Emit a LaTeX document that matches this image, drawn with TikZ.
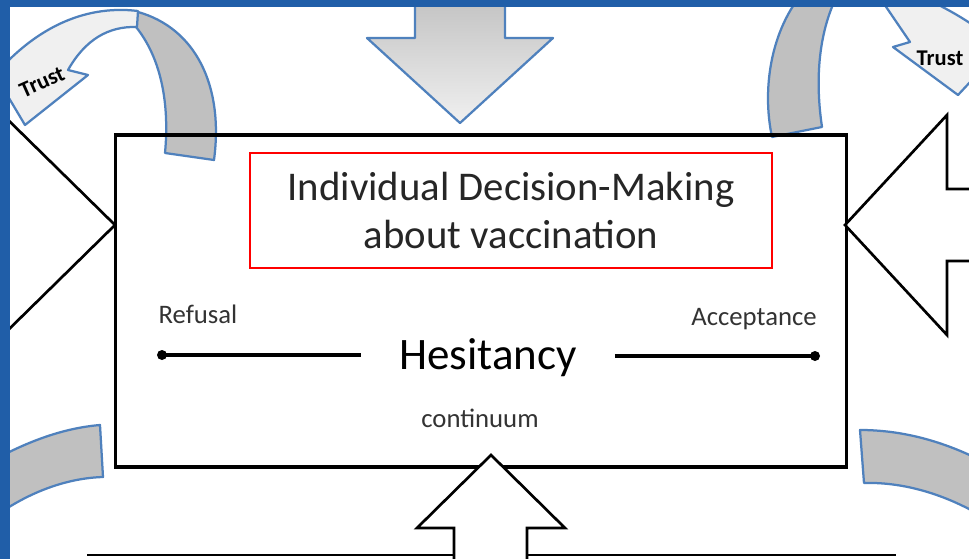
\documentclass[tikz,border=0pt]{standalone}
\usepackage{fontspec}
\setmainfont{Carlito}
\usepackage{xcolor}
\usetikzlibrary{shapes, arrows, positioning}

\definecolor{slideblue}{RGB}{32,94,168}
\definecolor{bandblue}{RGB}{79,129,189}
\definecolor{bandgray}{RGB}{192,192,192}
\definecolor{bandlight}{RGB}{240,240,240}

\begin{document}
\begin{tikzpicture}[x=0.025cm, y=-0.025cm,
    band/.style={draw=bandblue, line width=1.6pt, fill=bandgray, line join=round},
    frontband/.style={band, fill=bandlight},
    openarrow/.style={draw, fill=white, line width=1.9pt},
    small/.style={font=\fontsize{19}{21}\selectfont, text=black!80, anchor=base},
    trustlabel/.style={font=\bfseries\fontsize{16}{18}\selectfont, inner sep=0pt}]

    \useasboundingbox (0,0) rectangle (969,559);
    \fill[slideblue] (0,0) rectangle (969,559);
    \fill[white] (10,7) rectangle (969,559);

    \begin{scope}
        \clip (10,7) rectangle (969,559);

        % incoming arrows
        \path[band, top color=bandgray, bottom color=bandlight]
            (415,-10) -- (415,38) -- (367,38) -- (460,123) -- (553,38) -- (505,38) -- (505,-10) -- cycle;
        \draw[line width=1.9pt] (0,112) -- (115,225) -- (0,338);

        % trust loops
        \draw[band] (138,12) .. controls (195,28) and (224,85) .. (214,160) -- (165,153)
            .. controls (170,100) and (160,50) .. (128,18) -- cycle;
        \draw[frontband] (138,11) .. controls (80,4) and (35,33) .. (5,64) -- (0,83) -- (25,125) -- (88,75)
            -- (68,70) .. controls (85,40) and (108,26) .. (137,27) -- cycle;
        \node (trustleft) [trustlabel, rotate=24] at (42,82) {Trust};

        \draw[band] (772,137) .. controls (762,90) and (770,30) .. (805,-10) -- (840,-10)
            .. controls (818,30) and (815,80) .. (822,127) -- cycle;
        \draw[frontband] (878,-5) -- (910,42) -- (893,47) -- (958,95) -- (1000,50) -- (980,30)
            .. controls (955,12) and (930,0) .. (905,-10) -- cycle;
        \node (trustright) [trustlabel] at (940,58) {Trust};

        \draw[band] (100,425) -- (103,477) .. controls (70,478) and (30,490) .. (-10,520)
            -- (-10,462) .. controls (30,440) and (65,428) .. cycle;
        \draw[band] (860,430) -- (864,483) .. controls (900,482) and (940,492) .. (980,515)
            -- (980,460) .. controls (940,440) and (900,430) .. cycle;

        % decision box
        \node (mainbox) [draw, line width=2.2pt, minimum width=18.25cm, minimum height=8.3cm] at (481,301) {};
        \node (decision) [draw=red, line width=1.8pt, minimum width=13.05cm, minimum height=2.875cm,
            align=center, font=\fontsize{29}{34}\selectfont, text=black!85] at (511,210.5)
            {Individual Decision-Making\\about vaccination};

        \node (hes) [font=\fontsize{32}{36}\selectfont, anchor=base, inner xsep=27pt] at (488,369) {Hesitancy};
        \node (refusal) [small] at (198,323) {Refusal};
        \node (accept) [small] at (754,325) {Acceptance};
        \node (cont) [small] at (480,427) {continuum};

        \coordinate (refdot) at (162,355);
        \coordinate (accdot) at (815,356);
        \draw[line width=3pt] (refdot) -- (refdot -| hes.west);
        \draw[line width=3pt] (accdot -| hes.east) -- (accdot);
        \fill (refdot) circle (5);
        \fill (accdot) circle (5);

        \draw[openarrow] (975,189) -- (947,189) -- (947,115) -- (845,225) -- (947,335) -- (947,261) -- (975,261);

        \draw[line width=2pt] (87,555) -- (896,555);
        \draw[openarrow] (454,570) -- (454,528) -- (417,528) -- (491,455) -- (565,528) -- (527,528) -- (527,570);
    \end{scope}
\end{tikzpicture}
\end{document}
